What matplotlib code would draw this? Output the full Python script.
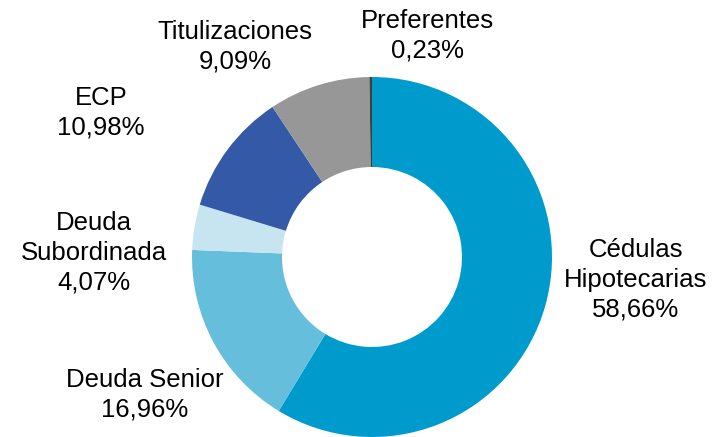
import matplotlib
matplotlib.use('Agg')
import matplotlib.pyplot as plt

plt.rcParams['font.family'] = ['Liberation Sans', 'DejaVu Sans']

# data, clockwise from 12 o'clock
labels = ['Cédulas\nHipotecarias', 'Deuda Senior', 'Deuda\nSubordinada',
          'ECP', 'Titulizaciones', 'Preferentes']
shares = [58.66, 16.96, 4.07, 10.98, 9.09, 0.23]
colors = ['#009bcd', '#66bedd', '#c6e5f0', '#3459a7', '#979797', '#3f3f3f']

# layout in pixels (fig is 722x437, donut centre and radius)
cx, cy, R = 372, 257, 180
label_px = [(636, 280), (145, 395), (94, 253), (101, 113), (235, 47), (427, 36)]

fig = plt.figure(figsize=(7.22, 4.37), dpi=100)
ax = fig.add_axes([0, 0, 1, 1])

ax.pie(shares, colors=colors, startangle=90, counterclock=False,
       radius=1.0, wedgeprops=dict(width=0.5, linewidth=0))

for lab, val, (px, py) in zip(labels, shares, label_px):
    txt = lab + '\n' + ('%.2f' % val).replace('.', ',') + '%'
    ax.text((px - cx) / R, (cy - py) / R, txt, ha='center', va='center',
            fontsize=18.5, color='black', linespacing=1.3)

ax.set_xlim(-cx / R, (722 - cx) / R)
ax.set_ylim(-(437 - cy) / R, cy / R)
ax.set_aspect('equal')
ax.axis('off')

fig.savefig('out.png', dpi=100)
